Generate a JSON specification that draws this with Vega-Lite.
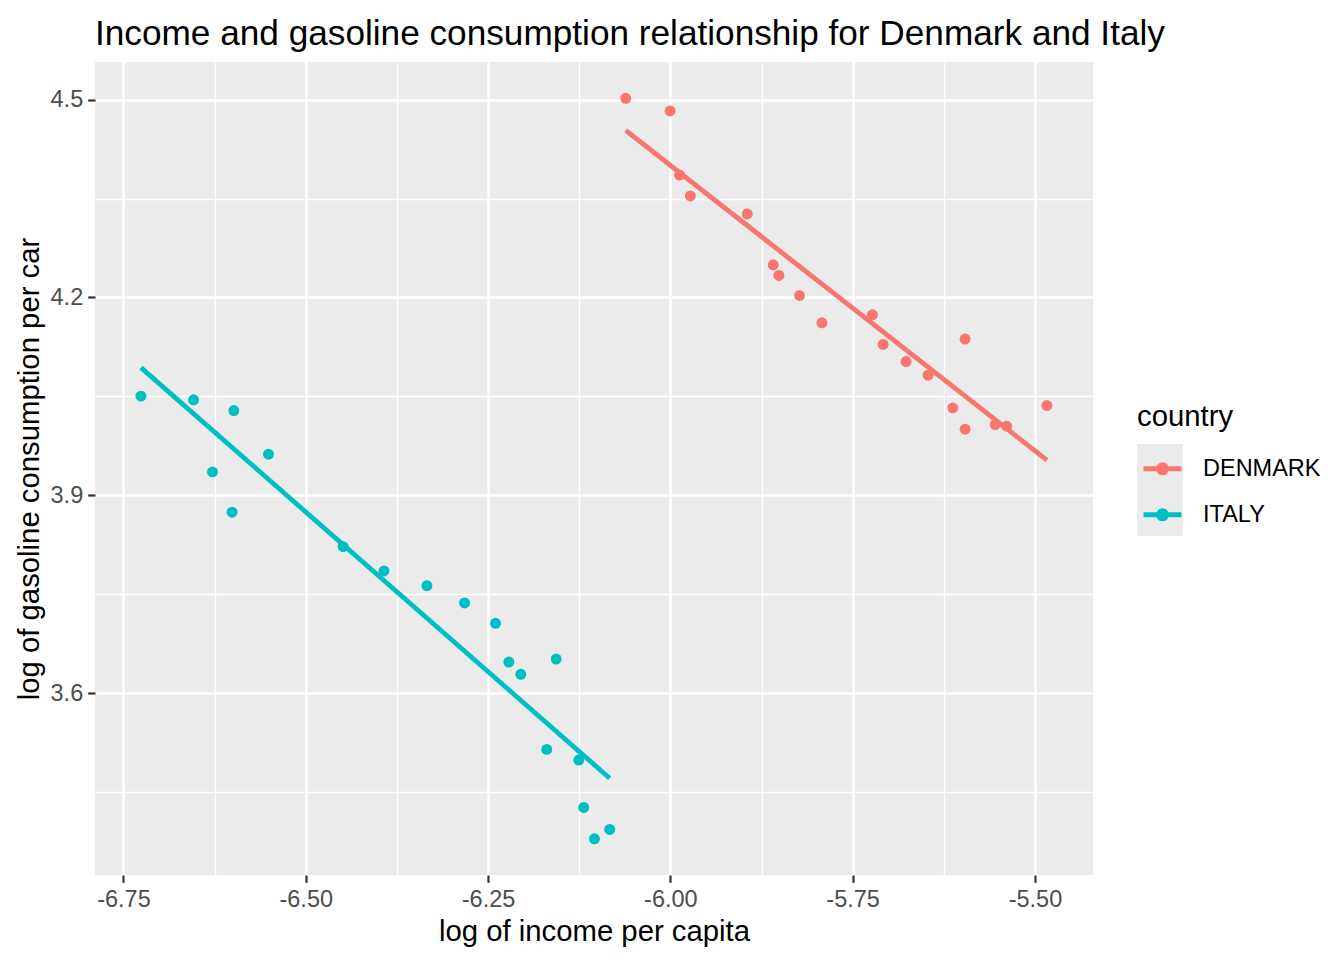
{
  "$schema": "https://vega.github.io/schema/vega-lite/v6.json",
  "width": 998,
  "height": 813,
  "autosize": {"type": "none"},
  "padding": {"left": 95, "top": 62, "right": 251, "bottom": 85},
  "background": "white",
  "title": {
    "text": "Income and gasoline consumption relationship for Denmark and Italy",
    "anchor": "start",
    "frame": "group",
    "fontSize": 35.2,
    "font": "Liberation Sans",
    "fontWeight": "normal",
    "color": "black",
    "baseline": "bottom",
    "offset": 14,
    "dy": 39
  },
  "data": {
    "values": [
      {"country": "DENMARK", "lincomep": -6.0612, "lgaspcar": 4.5020},
      {"country": "DENMARK", "lincomep": -6.0004, "lgaspcar": 4.4829},
      {"country": "DENMARK", "lincomep": -5.9873, "lgaspcar": 4.3857},
      {"country": "DENMARK", "lincomep": -5.9726, "lgaspcar": 4.3539},
      {"country": "DENMARK", "lincomep": -5.8945, "lgaspcar": 4.3266},
      {"country": "DENMARK", "lincomep": -5.8589, "lgaspcar": 4.2496},
      {"country": "DENMARK", "lincomep": -5.8511, "lgaspcar": 4.2334},
      {"country": "DENMARK", "lincomep": -5.8229, "lgaspcar": 4.2030},
      {"country": "DENMARK", "lincomep": -5.7922, "lgaspcar": 4.1616},
      {"country": "DENMARK", "lincomep": -5.7229, "lgaspcar": 4.1738},
      {"country": "DENMARK", "lincomep": -5.7082, "lgaspcar": 4.1287},
      {"country": "DENMARK", "lincomep": -5.6767, "lgaspcar": 4.1029},
      {"country": "DENMARK", "lincomep": -5.6466, "lgaspcar": 4.0822},
      {"country": "DENMARK", "lincomep": -5.5959, "lgaspcar": 4.1369},
      {"country": "DENMARK", "lincomep": -5.6127, "lgaspcar": 4.0326},
      {"country": "DENMARK", "lincomep": -5.5958, "lgaspcar": 4.0003},
      {"country": "DENMARK", "lincomep": -5.5544, "lgaspcar": 4.0073},
      {"country": "DENMARK", "lincomep": -5.5388, "lgaspcar": 4.0049},
      {"country": "DENMARK", "lincomep": -5.4836, "lgaspcar": 4.0361},
      {"country": "ITALY", "lincomep": -6.7260, "lgaspcar": 4.0504},
      {"country": "ITALY", "lincomep": -6.6538, "lgaspcar": 4.0448},
      {"country": "ITALY", "lincomep": -6.5986, "lgaspcar": 4.0285},
      {"country": "ITALY", "lincomep": -6.6278, "lgaspcar": 3.9355},
      {"country": "ITALY", "lincomep": -6.6010, "lgaspcar": 3.8744},
      {"country": "ITALY", "lincomep": -6.5511, "lgaspcar": 3.9624},
      {"country": "ITALY", "lincomep": -6.4486, "lgaspcar": 3.8222},
      {"country": "ITALY", "lincomep": -6.3927, "lgaspcar": 3.7853},
      {"country": "ITALY", "lincomep": -6.3338, "lgaspcar": 3.7630},
      {"country": "ITALY", "lincomep": -6.2822, "lgaspcar": 3.7367},
      {"country": "ITALY", "lincomep": -6.2397, "lgaspcar": 3.7059},
      {"country": "ITALY", "lincomep": -6.2215, "lgaspcar": 3.6472},
      {"country": "ITALY", "lincomep": -6.2051, "lgaspcar": 3.6285},
      {"country": "ITALY", "lincomep": -6.1566, "lgaspcar": 3.6517},
      {"country": "ITALY", "lincomep": -6.1695, "lgaspcar": 3.5147},
      {"country": "ITALY", "lincomep": -6.1256, "lgaspcar": 3.4985},
      {"country": "ITALY", "lincomep": -6.1188, "lgaspcar": 3.4267},
      {"country": "ITALY", "lincomep": -6.1041, "lgaspcar": 3.3791},
      {"country": "ITALY", "lincomep": -6.0832, "lgaspcar": 3.3933}
    ]
  },
  "encoding": {
    "x": {
      "field": "lincomep",
      "type": "quantitative",
      "title": "log of income per capita",
      "scale": {"domain": [-6.789, -5.4204], "nice": false, "zero": false},
      "axis": {
        "values": [-6.75, -6.625, -6.5, -6.375, -6.25, -6.125, -6, -5.875, -5.75, -5.625, -5.5],
        "labelExpr": "abs(datum.value*4 - round(datum.value*4)) < 0.01 ? (datum.value < 0 ? '-' : '') + format(abs(datum.value), '.2f') : ''",
        "gridWidth": {"condition": {"test": "abs(datum.value*4 - round(datum.value*4)) < 0.01", "value": 2.4}, "value": 1.3},
        "tickOpacity": {"condition": {"test": "abs(datum.value*4 - round(datum.value*4)) < 0.01", "value": 1}, "value": 0},
        "titlePadding": 7,
        "labelPadding": 5
      }
    },
    "y": {
      "field": "lgaspcar",
      "type": "quantitative",
      "title": "log of gasoline consumption per car",
      "scale": {"domain": [3.3242, 4.5571], "nice": false, "zero": false},
      "axis": {
        "values": [3.45, 3.6, 3.75, 3.9, 4.05, 4.2, 4.35, 4.5],
        "labelExpr": "abs(datum.value*10 - round(datum.value*10)) < 0.01 ? format(datum.value, '.1f') : ''",
        "gridWidth": {"condition": {"test": "abs(datum.value*10 - round(datum.value*10)) < 0.01", "value": 2.4}, "value": 1.3},
        "tickOpacity": {"condition": {"test": "abs(datum.value*10 - round(datum.value*10)) < 0.01", "value": 1}, "value": 0},
        "titlePadding": 6,
        "labelPadding": 5
      }
    },
    "color": {
      "field": "country",
      "type": "nominal",
      "scale": {"domain": ["DENMARK", "ITALY"], "range": ["#F8766D", "#00BFC4"]},
      "legend": {
        "title": "country",
        "orient": "none",
        "legendX": 1042,
        "legendY": 341,
        "zindex": 2,
        "padding": 0,
        "titleFontSize": 29.3,
        "titleFontWeight": "normal",
        "titleColor": "black",
        "titlePadding": 11,
        "labelFontSize": 23.5,
        "labelColor": "black",
        "labelOffset": 15,
        "rowPadding": 6,
        "symbolType": "M-0.826,0H0.826M0.174,0A0.174,0.174,0,1,1,-0.174,0A0.174,0.174,0,1,1,0.174,0Z",
        "symbolSize": 2116,
        "symbolStrokeWidth": 5,
        "symbolOpacity": 1,
        "encode": {
          "symbols": {
            "update": {
              "stroke": {"scale": "color", "field": "value"},
              "fill": {"scale": "color", "field": "value"},
              "strokeWidth": {"value": 5},
              "opacity": {"value": 1}
            }
          }
        }
      }
    }
  },
  "layer": [
    {
      "mark": {"type": "point", "filled": true, "size": 120, "opacity": 1},
      "encoding": {
        "opacity": {
          "field": "country",
          "type": "ordinal",
          "scale": {"range": [1, 1]},
          "legend": {
            "title": null,
            "orient": "none",
            "legendX": 1042,
            "legendY": 382,
            "zindex": 0,
            "padding": 0,
            "labelExpr": "''",
            "labelFontSize": 23.5,
            "labelColor": "transparent",
            "labelOffset": 0,
            "rowPadding": 0,
            "symbolType": "square",
            "symbolSize": 2116,
            "symbolFillColor": "#EBEBEB",
            "symbolStrokeWidth": 0,
            "symbolOpacity": 1,
            "encode": {
              "symbols": {
                "update": {
                  "fill": {"value": "#EBEBEB"},
                  "stroke": {"value": "transparent"},
                  "strokeWidth": {"value": 0},
                  "opacity": {"value": 1}
                }
              }
            }
          }
        }
      }
    },
    {
      "transform": [{"regression": "lgaspcar", "on": "lincomep", "groupby": ["country"]}],
      "mark": {"type": "line", "strokeWidth": 4.8}
    }
  ],
  "config": {
    "font": "Liberation Sans",
    "view": {"fill": "#EBEBEB", "stroke": null},
    "axis": {
      "domain": false,
      "grid": true,
      "gridColor": "white",
      "tickColor": "#333333",
      "tickSize": 7.3,
      "tickWidth": 2.2,
      "labelFontSize": 23.5,
      "labelColor": "#4D4D4D",
      "labelFont": "Liberation Sans",
      "labelOverlap": false,
      "labelFlush": false,
      "labelBound": false,
      "titleFont": "Liberation Sans",
      "titleFontSize": 29.3,
      "titleFontWeight": "normal",
      "titleColor": "black"
    },
    "legend": {
      "labelFont": "Liberation Sans",
      "titleFont": "Liberation Sans"
    }
  }
}
